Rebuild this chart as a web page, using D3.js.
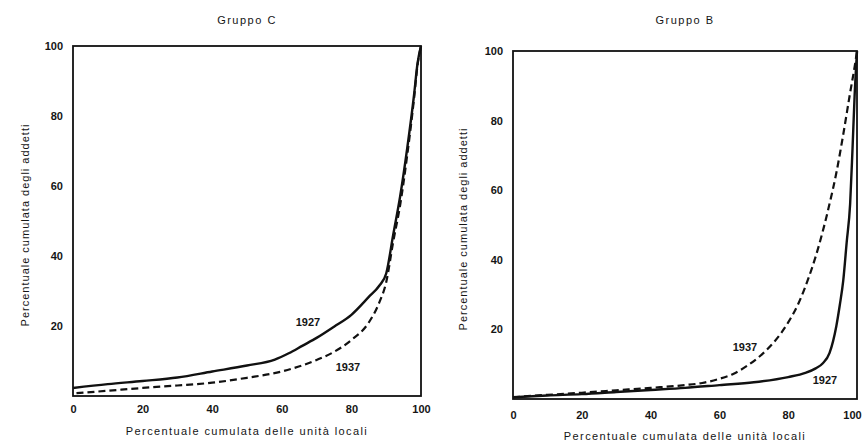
<!DOCTYPE html>
<html>
<head>
<meta charset="utf-8">
<script src="https://cdn.jsdelivr.net/npm/d3@7"></script>
<style>
  body { margin: 0; background: #fff; }
  text { font-family: "Liberation Sans", Arial, sans-serif; fill: #151515; }
</style>
</head>
<body>
<div id="chart"></div>
<script>
// tick values shared by both panels
var xTicks = [0, 20, 40, 60, 80, 100];
var yTicks = [20, 40, 60, 80, 100];

// Gruppo C
var xC1927 = [0, 10, 20, 30, 40, 50, 58, 62, 66, 70, 75, 80, 85, 88, 90, 92, 94, 96, 98, 99, 100];
var yC1927 = [2.3, 3.4, 4.3, 5.3, 7, 8.7, 10.4, 12.2, 14.4, 16.6, 19.8, 23.2, 28.3, 31.5, 35, 46, 57, 70.5, 86, 95, 100];
var xC1937 = [1, 10, 20, 30, 40, 50, 60, 70, 75, 80, 85, 88, 90, 92, 94, 96, 98, 99, 100];
var yC1937 = [0.8, 1.5, 2.3, 3, 3.8, 5.2, 7, 10.3, 12.6, 16, 21, 26.7, 32.5, 44, 54.5, 68.5, 85, 94.5, 100];

// Gruppo B
var xB1927 = [0, 10, 20, 30, 40, 50, 60, 70, 80, 85, 88, 90, 92, 94, 95, 96, 97, 98, 98.7, 99.3, 100];
var yB1927 = [0.5, 1, 1.4, 2, 2.6, 3.2, 4, 4.8, 6.3, 7.5, 8.8, 10.2, 13.2, 21, 27, 34, 45, 56, 72, 87, 100];
var xB1937 = [0, 10, 20, 30, 40, 50, 55, 60, 64, 68, 72, 76, 80, 83, 86, 88, 90, 92, 94, 96, 98, 99.4, 100];
var yB1937 = [0.5, 1.2, 1.8, 2.5, 3.2, 4, 4.6, 5.8, 7.2, 9.5, 12.5, 16.5, 22, 27.5, 35, 41, 48, 56, 65, 76, 88, 96, 100];

var svg = d3.select("#chart")
  .append("svg")
  .attr("width", 863)
  .attr("height", 444);

var panels = [
  { title: "Gruppo C", x0: 73, x1: 421, y0: 396, y1: 46, xPad: 9, xLabel: 435, yLabel: 25,
    a: { x: xC1927, y: yC1927, name: "1927", lx: 308, ly: 326 },
    b: { x: xC1937, y: yC1937, name: "1937", lx: 348, ly: 371 } },
  { title: "Gruppo B", x0: 513, x1: 857, y0: 399, y1: 51, xPad: 12, xLabel: 440, yLabel: 463,
    a: { x: xB1927, y: yB1927, name: "1927", lx: 825, ly: 384 },
    b: { x: xB1937, y: yB1937, name: "1937", lx: 745, ly: 351 } }
];

panels.forEach(function(p, i) {
  var x = d3.scaleLinear().domain([0, 100]).range([p.x0, p.x1]);
  var y = d3.scaleLinear().domain([0, 100]).range([p.y0, p.y1]);
  var g = svg.append("g");

  // frame
  g.append("rect")
    .attr("x", p.x0).attr("y", p.y1)
    .attr("width", p.x1 - p.x0).attr("height", p.y0 - p.y1)
    .attr("fill", "none").attr("stroke", "#111").attr("stroke-width", 1.8);

  var xAxis = g.append("g")
    .attr("transform", "translate(0," + p.y0 + ")")
    .call(d3.axisBottom(x).tickValues(xTicks).tickSize(0).tickPadding(p.xPad));
  var yAxis = g.append("g")
    .attr("transform", "translate(" + p.x0 + ",0)")
    .call(d3.axisLeft(y).tickValues(yTicks).tickSize(0).tickPadding(10));
  [xAxis, yAxis].forEach(function(a) {
    a.select(".domain").remove();
    a.selectAll("text")
      .attr("font-family", "Liberation Sans, Arial, sans-serif")
      .attr("font-size", 11)
      .attr("font-weight", "bold")
      .attr("fill", "#151515");
  });
  // last label of the right panel sits at the page edge
  if (i == 1) {
    xAxis.selectAll(".tick text").filter(function(d) { return d == 100; }).attr("x", -5);
  }

  var line = d3.line()
    .x(function(d) { return x(d[0]); })
    .y(function(d) { return y(d[1]); })
    .curve(d3.curveMonotoneX);

  g.append("path")
    .datum(d3.zip(p.b.x, p.b.y))
    .attr("d", line)
    .attr("fill", "none").attr("stroke", "#111")
    .attr("stroke-width", 2.2).attr("stroke-dasharray", "7,4");

  g.append("path")
    .datum(d3.zip(p.a.x, p.a.y))
    .attr("d", line)
    .attr("fill", "none").attr("stroke", "#111")
    .attr("stroke-width", 2.4);

  [p.a, p.b].forEach(function(s) {
    g.append("text")
      .attr("x", s.lx).attr("y", s.ly)
      .attr("text-anchor", "middle")
      .attr("font-size", 11)
      .attr("font-weight", "bold")
      .text(s.name);
  });

  // titles
  g.append("text")
    .attr("x", (p.x0 + p.x1) / 2).attr("y", 24)
    .attr("text-anchor", "middle")
    .attr("font-size", 11)
    .attr("letter-spacing", 1.5)
    .text(p.title);

  g.append("text")
    .attr("x", (p.x0 + p.x1) / 2).attr("y", p.xLabel)
    .attr("text-anchor", "middle")
    .attr("font-size", 11)
    .attr("letter-spacing", 1.4)
    .text("Percentuale cumulata delle unità locali");

  g.append("text")
    .attr("transform", "translate(" + p.yLabel + "," + ((p.y0 + p.y1) / 2 + 4) + ") rotate(-90)")
    .attr("text-anchor", "middle")
    .attr("dy", "0.35em")
    .attr("font-size", 11)
    .attr("letter-spacing", 1)
    .text("Percentuale cumulata degli addetti");
});
</script>
</body>
</html>
